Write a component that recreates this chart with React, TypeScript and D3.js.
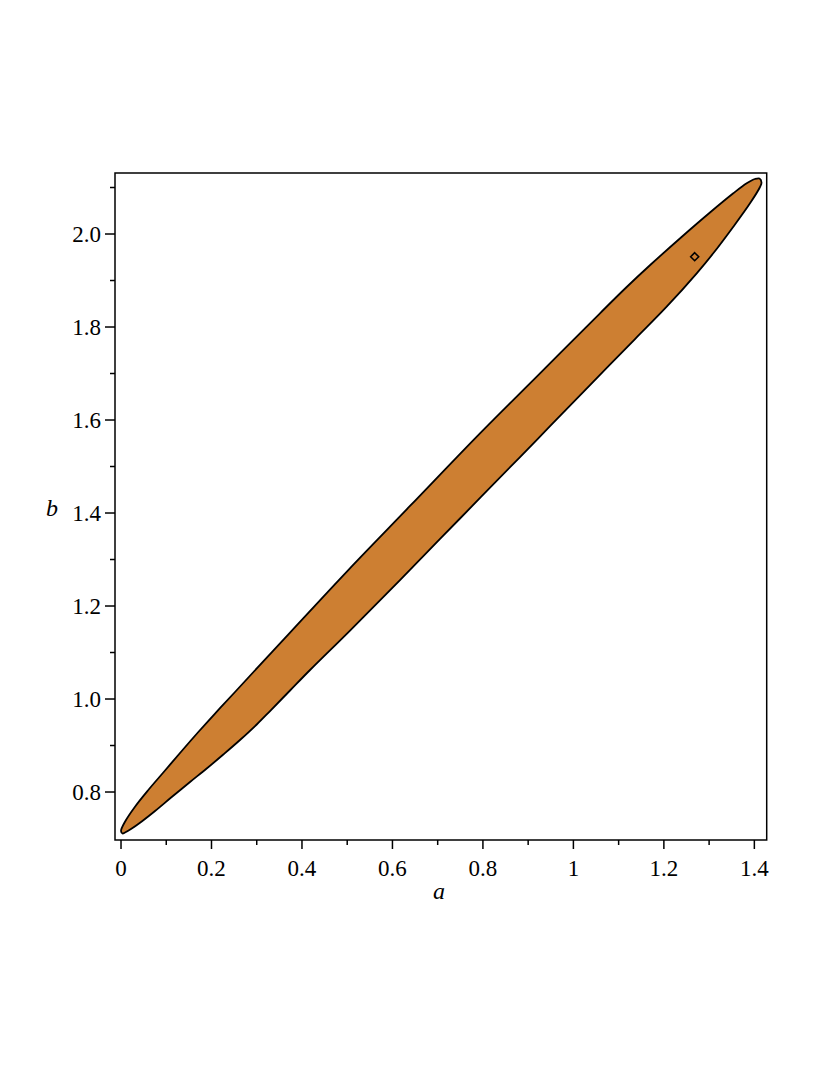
import React from "react";
import * as d3 from "d3";

// axis ranges (view of the plot)
const aRange = [-0.0133, 1.4273];
const bRange = [0.6968, 2.1312];

const aMajor = [0, 0.2, 0.4, 0.6, 0.8, 1, 1.2, 1.4];
const aMajorLabels = ["0", "0.2", "0.4", "0.6", "0.8", "1", "1.2", "1.4"];
const aMinor = [0.1, 0.3, 0.5, 0.7, 0.9, 1.1, 1.3];

const bMajor = [0.8, 1.0, 1.2, 1.4, 1.6, 1.8, 2.0];
const bMajorLabels = ["0.8", "1.0", "1.2", "1.4", "1.6", "1.8", "2.0"];
const bMinor = [0.9, 1.1, 1.3, 1.5, 1.7, 1.9, 2.1];

// contour of the region, upper-left edge from the lower tip to the upper tip
const upperEdge: [number, number][] = [
  [0.0, 0.7161], [0.0088, 0.7361], [0.0309, 0.7684], [0.0603, 0.8043],
  [0.0973, 0.8462], [0.1342, 0.8882], [0.1709, 0.929], [0.2078, 0.9688],
  [0.252, 1.0151], [0.3736, 1.143], [0.5024, 1.2774], [0.6388, 1.4151],
  [0.7935, 1.5714], [0.9262, 1.7004], [1.0588, 1.8295], [1.1178, 1.886],
  [1.1698, 1.9333], [1.2429, 1.9968], [1.3019, 2.0462], [1.3535, 2.0875],
  [1.3831, 2.109], [1.4014, 2.1183], [1.4114, 2.1194],
];
// lower-right edge, from the upper tip back to the lower tip
const lowerEdge: [number, number][] = [
  [1.4158, 2.1108], [1.4125, 2.1011], [1.3904, 2.066], [1.3535, 2.0157],
  [1.3092, 1.9585], [1.2726, 1.9155], [1.2062, 1.8437], [1.1362, 1.7742],
  [1.0367, 1.6751], [0.9483, 1.5867], [0.882, 1.5204], [0.7493, 1.3882],
  [0.6167, 1.2559], [0.5062, 1.1473], [0.4178, 1.0624], [0.3736, 1.0183],
  [0.3294, 0.9742], [0.3, 0.9452], [0.263, 0.9118], [0.2261, 0.8806],
  [0.1894, 0.8505], [0.1525, 0.8215], [0.1121, 0.7892], [0.0752, 0.7591],
  [0.0458, 0.7366], [0.0221, 0.7204], [0.0088, 0.7129], [0.0033, 0.7108],
];

const estimate: [number, number] = [1.2681, 1.9512];

const W = 830;
const H = 1075;
const left = 115, right = 766.7, top = 173, bottom = 840;
const font = "Liberation Serif, Times New Roman, serif";

export default function App() {
  const x = d3.scaleLinear().domain(aRange).range([left, right]);
  const y = d3.scaleLinear().domain(bRange).range([bottom, top]);

  const contour = d3
    .line<[number, number]>()
    .x((d) => x(d[0]))
    .y((d) => y(d[1]))
    .curve(d3.curveCatmullRomClosed.alpha(0.5));

  const pathD = contour([...upperEdge, ...lowerEdge]) || "";
  const ex = x(estimate[0]);
  const ey = y(estimate[1]);
  const r = 4;

  return (
    <div style={{ position: "absolute", left: 0, top: 0 }}>
      <svg width={W} height={H} style={{ display: "block", background: "#fff", fontFamily: font }}>
        <path d={pathD} fill="#CD7F32" stroke="#000" strokeWidth={1.8} strokeLinejoin="round" />
        <path
          d={`M${ex},${ey - r}L${ex + r},${ey}L${ex},${ey + r}L${ex - r},${ey}Z`}
          fill="none"
          stroke="#000"
          strokeWidth={1.6}
        />

        {/* frame */}
        <rect x={left} y={top} width={right - left} height={bottom - top} fill="none" stroke="#000" strokeWidth={1.5} />

        {/* x axis ticks */}
        {aMajor.map((v, i) => (
          <g key={"ax" + i}>
            <line x1={x(v)} x2={x(v)} y1={bottom} y2={bottom + 9} stroke="#000" strokeWidth={1.5} />
            <text x={x(v)} y={876} textAnchor="middle" fontSize={23}>
              {aMajorLabels[i]}
            </text>
          </g>
        ))}
        {aMinor.map((v, i) => (
          <line key={"am" + i} x1={x(v)} x2={x(v)} y1={bottom} y2={bottom + 5} stroke="#000" strokeWidth={1.5} />
        ))}

        {/* y axis ticks */}
        {bMajor.map((v, i) => (
          <g key={"bx" + i}>
            <line x1={left - 10} x2={left} y1={y(v)} y2={y(v)} stroke="#000" strokeWidth={1.5} />
            <text x={101} y={y(v)} dy="0.34em" textAnchor="end" fontSize={23}>
              {bMajorLabels[i]}
            </text>
          </g>
        ))}
        {bMinor.map((v, i) => (
          <line key={"bm" + i} x1={left - 5} x2={left} y1={y(v)} y2={y(v)} stroke="#000" strokeWidth={1.5} />
        ))}

        {/* axis titles */}
        <text x={439} y={899} textAnchor="middle" fontSize={24} fontStyle="italic">
          a
        </text>
        <text x={52} y={516} textAnchor="middle" fontSize={24} fontStyle="italic">
          b
        </text>
      </svg>
    </div>
  );
}
